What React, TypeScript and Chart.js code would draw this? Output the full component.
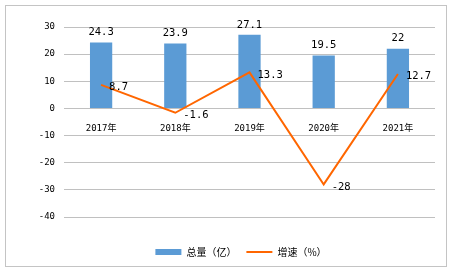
import React, { useEffect, useRef } from "react";
import { Chart, registerables } from "chart.js";

Chart.register(...registerables);

const categories = ["2017年", "2018年", "2019年", "2020年", "2021年"];
const totalValues = [24.3, 23.9, 27.1, 19.5, 22];
const growthValues = [8.7, -1.6, 13.3, -28, 12.7];
const totalLabels = ["24.3", "23.9", "27.1", "19.5", "22"];
const growthLabels = ["8.7", "-1.6", "13.3", "-28", "12.7"];
const yTicks = [-40, -30, -20, -10, 0, 10, 20, 30];
const seriesNames = ["总量（亿）", "增速（%）"];

const BAR_COLOR = "#5B9BD5";
const LINE_COLOR = "#FF6600";
const NUM_FONT = '"DejaVu Sans Mono", "Noto Sans CJK SC", monospace';

const borderPlugin = {
  id: "outerBorder",
  beforeDraw(chart: any) {
    const ctx = chart.ctx;
    ctx.save();
    ctx.fillStyle = "#ffffff";
    ctx.fillRect(0, 0, chart.width, chart.height);
    ctx.strokeStyle = "#c4c4c4";
    ctx.lineWidth = 1;
    ctx.strokeRect(5.5, 5.5, 441, 261);
    ctx.restore();
  },
};

const labelPlugin = {
  id: "valueLabels",
  afterDatasetsDraw(chart: any) {
    const ctx = chart.ctx;
    ctx.save();
    ctx.font = `10.5px ${NUM_FONT}`;
    ctx.fillStyle = "#000000";
    const barMeta = chart.getDatasetMeta(0);
    barMeta.data.forEach((el: any, i: number) => {
      ctx.textAlign = "center";
      ctx.textBaseline = "middle";
      ctx.fillText(totalLabels[i], el.x, el.y - 10);
    });
    const lineMeta = chart.getDatasetMeta(1);
    lineMeta.data.forEach((el: any, i: number) => {
      ctx.textAlign = "left";
      ctx.textBaseline = "middle";
      ctx.fillText(growthLabels[i], el.x + 8, el.y + 2.5);
    });
    ctx.restore();
  },
};

export default function App() {
  const ref = useRef<HTMLCanvasElement>(null);
  useEffect(() => {
    if (!ref.current) return;
    const chart = new Chart(ref.current, {
      type: "bar",
      data: {
        labels: categories,
        datasets: [
          {
            type: "bar",
            label: seriesNames[0],
            data: totalValues,
            xAxisID: "x",
            yAxisID: "y",
            backgroundColor: BAR_COLOR,
            borderWidth: 0,
            barPercentage: 0.3,
            categoryPercentage: 1,
            order: 2,
          },
          {
            type: "line",
            label: seriesNames[1],
            data: growthValues,
            xAxisID: "x",
            yAxisID: "y",
            borderColor: LINE_COLOR,
            backgroundColor: LINE_COLOR,
            borderWidth: 2,
            pointRadius: 0,
            tension: 0,
            order: 1,
          },
        ],
      },
      options: {
        animation: false,
        responsive: false,
        layout: { padding: { left: 28, right: 0, top: 27, bottom: 6 } },
        plugins: {
          tooltip: { enabled: false },
          legend: {
            position: "bottom",
            labels: {
              usePointStyle: true,
              pointStyleWidth: 26,
              boxHeight: 6,
              padding: 10,
              color: "#000000",
              font: { size: 10, family: '"Noto Sans CJK SC", sans-serif' },
              generateLabels: () => [
                {
                  text: seriesNames[0],
                  fillStyle: BAR_COLOR,
                  strokeStyle: BAR_COLOR,
                  lineWidth: 0,
                  pointStyle: "rect",
                  datasetIndex: 0,
                  hidden: false,
                },
                {
                  text: seriesNames[1],
                  fillStyle: LINE_COLOR,
                  strokeStyle: LINE_COLOR,
                  lineWidth: 2,
                  pointStyle: "line",
                  datasetIndex: 1,
                  hidden: false,
                },
              ],
            },
          },
        },
        scales: {
          x: {
            position: { y: 0 } as any,
            grid: { display: false },
            border: { display: false },
            ticks: {
              padding: 7,
              color: "#000000",
              font: { size: 9, family: NUM_FONT },
              maxRotation: 0,
            },
          },
          y: {
            min: -40,
            max: 30,
            afterBuildTicks: (s: any) => {
              s.ticks = yTicks.map((v) => ({ value: v }));
            },
            afterFit: (s: any) => {
              s.width = 36;
            },
            grid: { color: "#c0c0c0", drawTicks: false, lineWidth: 1 },
            border: { display: false },
            ticks: {
              padding: 9,
              color: "#000000",
              font: { size: 9, family: NUM_FONT },
            },
          },
          pad: {
            type: "category",
            position: "bottom",
            display: true,
            grid: { display: false },
            border: { display: false },
            ticks: { display: false },
            afterFit: (s: any) => {
              s.height = 20;
            },
          } as any,
          padR: {
            type: "linear",
            position: "right",
            display: true,
            grid: { display: false },
            border: { display: false },
            ticks: { display: false },
            afterFit: (s: any) => {
              s.width = 19;
            },
          } as any,
        },
      },
      plugins: [borderPlugin, labelPlugin],
    });
    return () => chart.destroy();
  }, []);
  return (
    <div style={{ position: "fixed", left: 0, top: 0, width: 454, height: 273 }}>
      <canvas ref={ref} width={454} height={273} style={{ display: "block" }} />
    </div>
  );
}
